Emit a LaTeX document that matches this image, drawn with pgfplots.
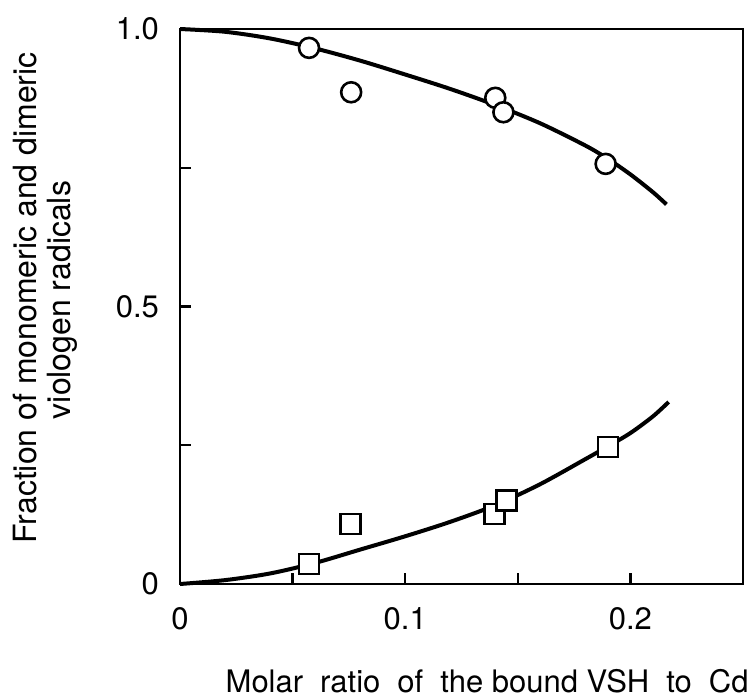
\documentclass[border=0pt]{standalone}
\usepackage{fontspec}
\setmainfont{TeX Gyre Heros}
\usepackage{pgfplots}
\pgfplotsset{compat=1.18}
\begin{document}
\begin{tikzpicture}
\begin{axis}[
  scale only axis,
  width=281.5pt, height=277.5pt,
  xmin=0, xmax=0.25, ymin=0, ymax=1,
  axis line style={line width=1.3pt},
  tick align=inside,
  major tick length=5.5pt,
  tick style={line width=1.2pt, black},
  xtick={0,0.05,0.1,0.15,0.2},
  xticklabels={0,,0.1,,0.2},
  ytick={0,0.25,0.5,0.75,1},
  yticklabels={0,,0.5,,1.0},
  xtick pos=bottom, ytick pos=left,
  ticklabel style={font=\fontsize{15.5}{18}\selectfont},
  xticklabel style={yshift=-8pt},
  yticklabel style={xshift=-7pt},
  clip=false,
]
\addplot[black, line width=2pt, smooth] coordinates {
 (0,1.0) (0.02,0.995) (0.04,0.983) (0.06,0.965) (0.08,0.943) (0.10,0.918)
 (0.12,0.892) (0.14,0.863) (0.16,0.830) (0.18,0.790) (0.19,0.766)
 (0.20,0.738) (0.21,0.706) (0.216,0.684)};
\addplot[black, line width=2pt, smooth] coordinates {
 (0,0) (0.02,0.007) (0.04,0.019) (0.06,0.038) (0.08,0.062) (0.10,0.086)
 (0.12,0.112) (0.14,0.142) (0.16,0.180) (0.18,0.225) (0.19,0.248)
 (0.20,0.272) (0.21,0.302) (0.217,0.328)};
\addplot[only marks, mark=*, mark size=5pt, mark options={fill=white, draw=black, line width=1.3pt}] coordinates {
 (0.0573,0.966) (0.076,0.886) (0.140,0.876) (0.1436,0.850) (0.189,0.757)};
\addplot[only marks, mark=square*, mark size=5pt, mark options={fill=white, draw=black, line width=1.3pt}] coordinates {
 (0.0573,0.036) (0.0756,0.108) (0.1396,0.126) (0.145,0.151) (0.190,0.247)};
\end{axis}
\node[rotate=90, anchor=base, font=\fontsize{16}{19}\selectfont] at ([xshift=-71.5pt, yshift=143pt]current axis.south west) {Fraction of monomeric and dimeric};
\node[rotate=90, anchor=base, font=\fontsize{16}{19}\selectfont] at ([xshift=-54.5pt, yshift=142pt]current axis.south west) {viologen radicals};
\node[anchor=base east, font=\fontsize{15.5}{18}\selectfont, inner sep=0pt] at ([xshift=3pt, yshift=-54pt]current axis.south east) {Molar\hspace{0.55em}ratio\hspace{0.55em}of\hspace{0.55em}the bound VSH\hspace{0.55em}to\hspace{0.55em}Cd};
\pgfresetboundingbox
\path[use as bounding box] ([xshift=-90pt, yshift=-56.5pt]current axis.south west) rectangle ([xshift=3pt, yshift=14.5pt]current axis.north east);
\end{tikzpicture}
\end{document}
